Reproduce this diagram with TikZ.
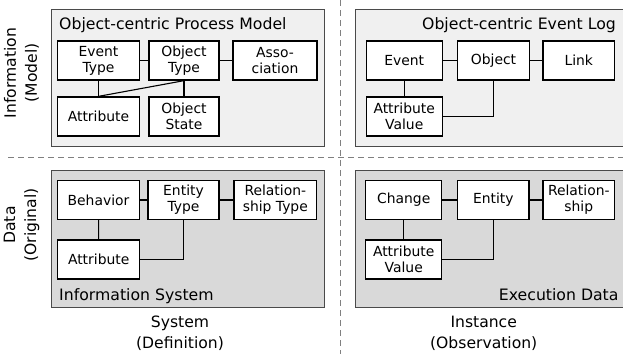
\documentclass[tikz,border=0pt]{standalone}
\usepackage{fontspec}
\setmainfont{DejaVu Sans}
\definecolor{toppanel}{HTML}{F0F0F0}
\definecolor{botpanel}{HTML}{D9D9D9}
\definecolor{panelline}{HTML}{4A4A4A}
\definecolor{sepline}{HTML}{808080}
\tikzset{
  panel/.style={draw=panelline, line width=0.9bp},
  box/.style={draw=black, fill=white, line width=1.3bp, minimum height=39bp, inner sep=0pt, align=center, font=\fontsize{13.9bp}{16bp}\selectfont},
  conn/.style={draw=black, line width=1.1bp},
  ttl/.style={font=\fontsize{15.7bp}{19bp}\selectfont, inner sep=0pt},
  lbl/.style={font=\fontsize{15.6bp}{21bp}\selectfont, align=center, inner sep=0pt},
  sepl/.style={draw=sepline, line width=1bp, dash pattern=on 6bp off 4bp}
}
\begin{document}
\begin{tikzpicture}[x=1bp,y=-1bp]
\useasboundingbox (0,0) rectangle (623,354);
\fill[white] (0,0) rectangle (623,354);
% separators
\draw[sepl] (8,157.7) -- (623,157.7);
\draw[sepl] (340,0) -- (340,354);
% panels
\filldraw[panel, fill=toppanel] (51,9.3) rectangle (324,146);
\filldraw[panel, fill=toppanel] (355,9.3) rectangle (640,146);
\filldraw[panel, fill=botpanel] (51,170) rectangle (324,307.5);
\filldraw[panel, fill=botpanel] (355,170) rectangle (640,307.5);
% titles
\node[ttl, anchor=base west] (t1) at (59,29.3) {Object-centric Process Model};
\node[ttl, anchor=base east] (t2) at (616,29.3) {Object-centric Event Log};
\node[ttl, anchor=base west] (t3) at (59,300) {Information System};
\node[ttl, anchor=base east] (t4) at (618.7,300) {Execution Data};
% top-left
\node[box, minimum width=81.6bp] (et) at (98.5,60.5) {Event\\Type};
\node[box, minimum width=70bp] (ot) at (184,60.5) {Object\\Type};
\node[box, minimum width=84bp] (as) at (275,60.5) {Asso-\\ciation};
\node[box, minimum width=81.6bp] (at) at (98.5,116.5) {Attribute};
\node[box, minimum width=70bp] (os) at (184,116.5) {Object\\State};
\draw[conn] (et) -- (ot);
\draw[conn] (ot) -- (as);
\draw[conn] (et) -- (at);
\draw[conn] (at.north) -- (ot.south);
\draw[conn] (ot) -- (os);
% top-right
\node[box, minimum width=76bp] (ev) at (404.2,60.5) {Event};
\node[box, minimum width=72bp] (ob) at (493.5,60.5) {Object};
\node[box, minimum width=71.7bp] (lk) at (578.8,60.5) {Link};
\node[box, minimum width=76bp] (av) at (404.2,116.5) {Attribute\\Value};
\draw[conn] (ev) -- (ob);
\draw[conn] (ob) -- (lk);
\draw[conn] (ev) -- (av);
\draw[conn] (av.east) -| (ob.south);
% bottom-left
\node[box, minimum width=81.6bp] (be) at (98.5,200) {Behavior};
\node[box, minimum width=71bp] (ety) at (183.5,200) {Entity\\Type};
\node[box, minimum width=82.7bp] (rt) at (275.3,200) {Relation-\\ship Type};
\node[box, minimum width=82bp] (at2) at (98.7,259.5) {Attribute};
\draw[conn] (be) -- (ety);
\draw[conn] (ety) -- (rt);
\draw[conn] (be) -- (at2);
\draw[conn] (at2.east) -| (ety.south);
% bottom-right
\node[box, minimum width=76bp] (ch) at (403.7,200) {Change};
\node[box, minimum width=71.3bp] (en) at (493.3,200) {Entity};
\node[box, minimum width=71.7bp] (rs) at (578.8,200) {Relation-\\ship};
\node[box, minimum width=76bp] (av2) at (403.7,259.5) {Attribute\\Value};
\draw[conn] (ch) -- (en);
\draw[conn] (en) -- (rs);
\draw[conn] (ch) -- (av2);
\draw[conn] (av2.east) -| (en.south);
% axis labels
\node[lbl, rotate=90] (lm) at (21.5,73) {Information\\(Model)};
\node[lbl, rotate=90] (ld) at (21.5,225) {Data\\(Original)};
\node[lbl] (ls) at (180,333) {System\\(Definition)};
\node[lbl] (li) at (483.7,333) {Instance\\(Observation)};
\end{tikzpicture}
\end{document}
